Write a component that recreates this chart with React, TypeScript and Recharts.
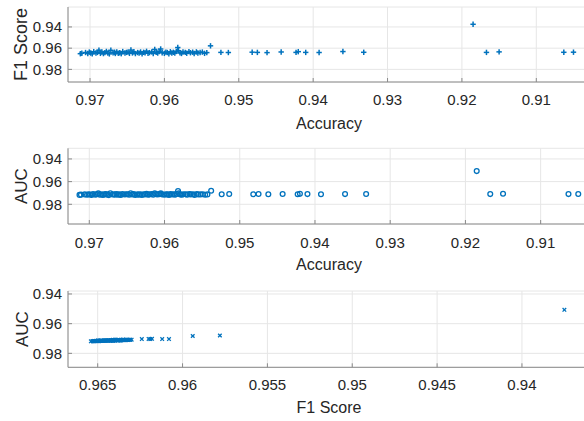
import React from "react";
import { ScatterChart, Scatter, XAxis, YAxis, CartesianGrid } from "recharts";

// one row per model run: accuracy, F1 score, AUC
const accuracy = [
  0.9713, 0.9711, 0.9706, 0.9703, 0.9701, 0.9699, 0.9697, 0.9695, 0.9692, 0.969,
  0.9688, 0.9686, 0.9684, 0.9682, 0.968, 0.9678, 0.9676, 0.9674, 0.9672, 0.9669,
  0.9667, 0.9666, 0.9664, 0.9662, 0.966, 0.9658, 0.9656, 0.9653, 0.9651, 0.9649,
  0.9647, 0.9645, 0.9643, 0.9641, 0.9639, 0.9636, 0.9634, 0.9632, 0.963, 0.9628,
  0.9626, 0.9624, 0.9622, 0.962, 0.9617, 0.9615, 0.9613, 0.9611, 0.9609, 0.9607,
  0.9605, 0.9603, 0.96, 0.9598, 0.9596, 0.9594, 0.9592, 0.959, 0.9588, 0.9586,
  0.9584, 0.9581, 0.9579, 0.9577, 0.9575, 0.9572, 0.957, 0.9567, 0.9565, 0.9562,
  0.956, 0.9557, 0.9555, 0.9552, 0.9549, 0.9546, 0.9543,
  0.9582, 0.9538, 0.9524, 0.9514, 0.9482, 0.9475, 0.9462, 0.9443, 0.9423, 0.942,
  0.941, 0.9392, 0.936, 0.9332, 0.9185, 0.9167, 0.915, 0.9063, 0.905,
];

const f1Score = [
  0.9652, 0.9648, 0.9641, 0.965, 0.9637, 0.9645, 0.9653, 0.9633, 0.9646, 0.964,
  0.9619, 0.9649, 0.9636, 0.9651, 0.9642, 0.9631, 0.9647, 0.9654, 0.962, 0.9644,
  0.9638, 0.965, 0.9635, 0.9648, 0.9643, 0.9652, 0.9632, 0.9646, 0.964, 0.9637,
  0.9649, 0.9618, 0.9645, 0.9634, 0.9651, 0.9641, 0.9647, 0.9636, 0.9653, 0.9639,
  0.9644, 0.963, 0.9648, 0.9642, 0.9635, 0.965, 0.9612, 0.9638, 0.9646, 0.9633,
  0.9608, 0.9643, 0.9649, 0.9637, 0.9641, 0.9652, 0.9634, 0.9645, 0.9639, 0.9647,
  0.9631, 0.9624, 0.9644, 0.965, 0.9636, 0.964, 0.9648, 0.9633, 0.9643, 0.9638,
  0.9651, 0.9635, 0.9646, 0.9641, 0.9637, 0.9649, 0.9642,
  0.9594, 0.9578, 0.964, 0.9641, 0.9638, 0.964, 0.9642, 0.9636, 0.964, 0.9633,
  0.964, 0.9641, 0.9632, 0.9639, 0.9375, 0.964, 0.9635, 0.9639, 0.9638,
];

const auc = [
  0.9717, 0.9715, 0.9713, 0.9716, 0.9711, 0.9714, 0.9718, 0.971, 0.9715, 0.9712,
  0.9704, 0.9716, 0.9711, 0.9717, 0.9713, 0.9709, 0.9715, 0.9719, 0.9703, 0.9714,
  0.9712, 0.9716, 0.971, 0.9715, 0.9713, 0.9718, 0.9709, 0.9714, 0.9712, 0.9711,
  0.9716, 0.9702, 0.9714, 0.971, 0.9717, 0.9713, 0.9715, 0.9711, 0.9718, 0.9712,
  0.9714, 0.9708, 0.9715, 0.9713, 0.971, 0.9716, 0.9704, 0.9712, 0.9714, 0.971,
  0.9704, 0.9713, 0.9716, 0.9711, 0.9713, 0.9717, 0.971, 0.9714, 0.9712, 0.9715,
  0.9709, 0.9704, 0.9714, 0.9716, 0.9711, 0.9712, 0.9715, 0.971, 0.9713, 0.9712,
  0.9717, 0.971, 0.9714, 0.9713, 0.9711, 0.9716, 0.9713,
  0.9683, 0.968, 0.9711, 0.9709, 0.9711, 0.9709, 0.9712, 0.9709, 0.9711, 0.9708,
  0.971, 0.9711, 0.971, 0.9709, 0.9507, 0.971, 0.9707, 0.971, 0.9709,
];

const accTicks = [0.97, 0.96, 0.95, 0.94, 0.93, 0.92, 0.91];
const f1Ticks = [0.965, 0.96, 0.955, 0.95, 0.945, 0.94];
const scoreTicks = [0.94, 0.96, 0.98];

const rows = accuracy.map((a, i) => ({ accuracy: a, f1: f1Score[i], auc: auc[i] }));

const BLUE = "#0072BD";
const TEXT = "#262626";
const AXIS = "#8a8a8a";
const FONT = '"Liberation Sans", Arial, sans-serif';

const PlusMark = (p: any) => (
  <g stroke={BLUE} strokeWidth={1.5}>
    <line x1={p.cx - 2.7} x2={p.cx + 2.7} y1={p.cy} y2={p.cy} />
    <line x1={p.cx} x2={p.cx} y1={p.cy - 2.7} y2={p.cy + 2.7} />
  </g>
);

const CircleMark = (p: any) => (
  <circle cx={p.cx} cy={p.cy} r={2.4} fill="none" stroke={BLUE} strokeWidth={1.3} />
);

const CrossMark = (p: any) => (
  <g stroke={BLUE} strokeWidth={1.3}>
    <line x1={p.cx - 1.8} x2={p.cx + 1.8} y1={p.cy - 1.8} y2={p.cy + 1.8} />
    <line x1={p.cx - 1.8} x2={p.cx + 1.8} y1={p.cy + 1.8} y2={p.cy - 1.8} />
  </g>
);

type PanelProps = {
  top: number;
  height: number;
  marginTop: number;
  xAxisHeight: number;
  xKey: string;
  yKey: string;
  xDomain: [number, number];
  yDomain: [number, number];
  xTicks: number[];
  xLabel: string;
  yLabel: string;
  yLabelSize: number;
  xTickMargin: number;
  xLabelOffset: number;
  yLabelOffset: number;
  shape: any;
};

function Panel(props: PanelProps) {
  const tick = { fontSize: 15, fill: TEXT, fontFamily: FONT };
  return (
    <div style={{ position: "absolute", left: 0, top: props.top }}>
      <ScatterChart
        width={600}
        height={props.height}
        margin={{ top: props.marginTop, right: 10, bottom: 0, left: 0 }}
      >
        <CartesianGrid stroke="#e6e6e6" />
        <XAxis
          type="number"
          dataKey={props.xKey}
          domain={props.xDomain}
          allowDataOverflow
          reversed
          ticks={props.xTicks}
          interval={0}
          height={props.xAxisHeight}
          tickSize={-4}
          tickMargin={props.xTickMargin}
          tick={tick}
          stroke={AXIS}
          label={{
            value: props.xLabel,
            position: "insideBottom",
            offset: props.xLabelOffset,
            fontSize: 16,
            fill: TEXT,
            fontFamily: FONT,
          }}
        />
        <XAxis
          xAxisId="top"
          orientation="top"
          type="number"
          dataKey={props.xKey}
          domain={props.xDomain}
          allowDataOverflow
          reversed
          ticks={props.xTicks}
          interval={0}
          height={0}
          tickSize={-4}
          tick={false}
          stroke={AXIS}
        />
        <YAxis
          type="number"
          dataKey={props.yKey}
          domain={props.yDomain}
          allowDataOverflow
          reversed
          ticks={scoreTicks}
          interval={0}
          width={68}
          tickSize={-4}
          tickMargin={10}
          tick={tick}
          stroke={AXIS}
          label={{
            value: props.yLabel,
            angle: -90,
            position: "insideLeft",
            offset: props.yLabelOffset,
            fontSize: props.yLabelSize,
            fill: TEXT,
            fontFamily: FONT,
            style: { textAnchor: "middle" },
          }}
        />
        <Scatter data={rows} shape={props.shape} isAnimationActive={false} />
      </ScatterChart>
    </div>
  );
}

export default function App() {
  return (
    <div
      style={{
        position: "absolute",
        left: 0,
        top: 0,
        width: 584,
        height: 421,
        overflow: "hidden",
        background: "#fff",
      }}
    >
      <Panel
        top={0}
        height={140}
        marginTop={7}
        xAxisHeight={58}
        xKey="accuracy"
        yKey="f1"
        xDomain={[0.90278, 0.97296]}
        yDomain={[0.9212, 0.9919]}
        xTicks={accTicks}
        xLabel="Accuracy"
        yLabel="F1 Score"
        yLabelSize={18}
        xTickMargin={16.3}
        xLabelOffset={11}
        yLabelOffset={21}
        shape={PlusMark}
      />
      <Panel
        top={140}
        height={140}
        marginTop={8.3}
        xAxisHeight={56}
        xKey="accuracy"
        yKey="auc"
        xDomain={[0.90344, 0.97283]}
        yDomain={[0.9306, 0.9974]}
        xTicks={accTicks}
        xLabel="Accuracy"
        yLabel="AUC"
        yLabelSize={17}
        xTickMargin={17.3}
        xLabelOffset={10.2}
        yLabelOffset={21}
        shape={CircleMark}
      />
      <Panel
        top={280}
        height={141}
        marginTop={11}
        xAxisHeight={53.7}
        xKey="f1"
        yKey="auc"
        xDomain={[0.93599, 0.96675]}
        yDomain={[0.938, 0.9894]}
        xTicks={f1Ticks}
        xLabel="F1 Score"
        yLabel="AUC"
        yLabelSize={17}
        xTickMargin={15.7}
        xLabelOffset={8}
        yLabelOffset={22}
        shape={CrossMark}
      />
    </div>
  );
}
